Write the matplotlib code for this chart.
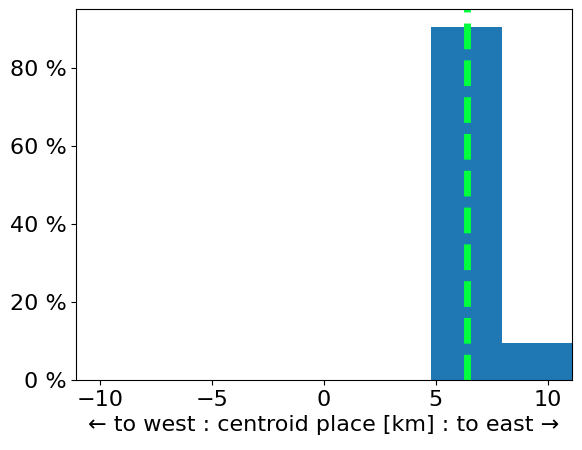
import numpy as np
import matplotlib
matplotlib.use("Agg")
import matplotlib.pyplot as plt
from matplotlib.ticker import FuncFormatter

# histogram of centroid place (share of cases per bin)
bin_edges = [4.80, 7.94, 11.08]
shares = [90.5, 9.5]
centroid_mean = 6.40

plt.rc("font", size=16)
fig = plt.figure(figsize=(5.82, 4.5), dpi=100)
ax = fig.add_axes([0.1306, 0.1556, 0.8522, 0.8244])

widths = np.diff(bin_edges)
ax.bar(bin_edges[:-1], shares, width=widths, align="edge", color="#1f77b4")
ax.axvline(centroid_mean, color="#00ff3c", linestyle="--", linewidth=5)

lim = max(abs(bin_edges[0]), abs(bin_edges[-1]))
ax.set_xlim(-lim, lim)
ax.set_xticks([-10, -5, 0, 5, 10])
ax.set_yticks([0, 20, 40, 60, 80])
ax.yaxis.set_major_formatter(FuncFormatter(lambda v, p: f"{v:.0f} %"))
ax.set_xlabel("\u2190 to west : centroid place [km] : to east \u2192")

fig.savefig("out.png", dpi=100)
